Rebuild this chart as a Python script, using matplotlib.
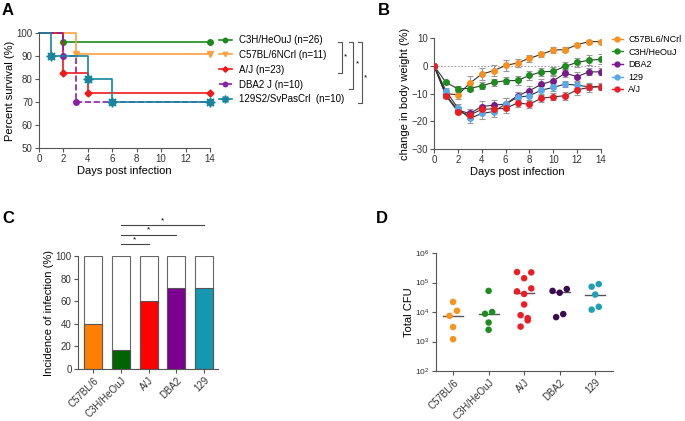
import numpy as np
import matplotlib
matplotlib.use("Agg")
from matplotlib import pyplot as plt
from matplotlib.lines import Line2D
from matplotlib.ticker import FixedLocator

plt.rcParams['font.family'] = ['Liberation Sans', 'DejaVu Sans']
plt.rcParams['font.size'] = 7
plt.rcParams['axes.linewidth'] = 0.8
plt.rcParams['axes.edgecolor'] = '#555555'
plt.rcParams['xtick.color'] = '#555555'
plt.rcParams['ytick.color'] = '#555555'
plt.rcParams['xtick.labelcolor'] = '#333333'
plt.rcParams['ytick.labelcolor'] = '#333333'
plt.rcParams['xtick.major.size'] = 3
plt.rcParams['ytick.major.size'] = 3

# ---- panel A: survival ----
surv_labels = ["C3H/HeOuJ (n=26)", "C57BL/6NCrl (n=11)", "A/J (n=23)",
               "DBA2 J (n=10)", "129S2/SvPasCrl  (n=10)"]
surv_times = [[0, 2, 14], [0, 3, 14], [0, 2, 4, 14], [0, 2, 3, 14], [0, 1, 4, 6, 14]]
surv_pct = [[100, 96.2, 96.2], [100, 90.9, 90.9], [100, 82.6, 73.9, 73.9],
            [100, 90, 70, 70], [100, 90, 80, 70, 70]]
surv_colors = ['#1a8a1a', '#ffa040', '#f01818', '#8a1fa8', '#17859e']
surv_markers = ['o', 'v', 'D', 'o', (8, 1, 0)]
surv_msize = [4, 4, 3.5, 4, 7]
surv_styles = ['-', '-', '-', '--', '-']

# ---- panel B: body weight ----
days = list(range(15))
bw_labels = ["C57BL6/NCrl", "C3H/HeOuJ", "DBA2", "129", "A/J"]
bw_colors = ['#f7901e', '#1e8c1e', '#7a1a8c', '#5aa8e8', '#ee1c24']
bw_mean = [
    [0, -10, -10.5, -6.3, -3, -1.8, 0.1, 1, 2.7, 4.1, 5.7, 5.8, 7.6, 8.7, 8.7],
    [0, -6, -8.3, -8.2, -7.2, -6, -5.4, -5.3, -3.5, -2.2, -2, -0.2, 1.2, 2, 2.3],
    [0, -10.5, -16, -17.2, -14.7, -14.2, -13.8, -10.8, -9, -6.7, -5.4, -2.7, -3.9, -2.2, -2.2],
    [0, -9, -15.3, -19, -17.2, -16.5, -13.8, -11.4, -10.8, -8.8, -7.8, -6.6, -7, -7.6, -7.5],
    [0, -10.8, -16.5, -17.8, -15.7, -15.5, -15.4, -13.4, -13.9, -11.7, -11.2, -10.8, -8.7, -7.8, -7.5],
]
bw_err = [
    [0, 0.8, 1.5, 2.5, 2.3, 2.0, 2.0, 1.5, 1.3, 1.0, 1.0, 0.8, 0.5, 0.5, 0.5],
    [0, 0.5, 1.0, 1.0, 1.3, 1.3, 1.3, 1.5, 1.5, 1.5, 1.5, 1.5, 1.5, 1.7, 1.8],
    [0, 1.0, 1.0, 1.5, 2.0, 2.0, 2.0, 1.5, 1.8, 1.8, 1.8, 1.5, 1.5, 1.3, 1.3],
    [0, 1.0, 1.5, 1.8, 2.0, 2.0, 2.0, 1.8, 1.8, 1.5, 1.3, 1.0, 1.0, 1.0, 1.0],
    [0, 1.0, 1.0, 1.5, 1.5, 1.5, 1.5, 1.3, 1.5, 1.3, 1.3, 1.5, 1.8, 1.5, 1.3],
]

# ---- panel C: incidence ----
strains = ["C57BL/6", "C3H/HeOuJ", "A/J", "DBA2", "129"]
incidence = [40, 16.7, 60, 71.4, 71.4]
inc_colors = ['#ff8000', '#006400', '#ff0000', '#7a0090', '#1597b0']
sig_pairs = [(1, 2), (1, 3), (1, 4)]

# ---- panel D: CFU ----
cfu_colors = ['#f7931e', '#1e8c1e', '#ee1c24', '#3b0a4f', '#1fa0b5']
cfu_vals = [
    [2.2e4, 1.1e4, 7.4e3, 3.1e3, 1.2e3],
    [5.2e4, 1.0e4, 8.7e3, 4.4e3, 2.5e3],
    [2.26e5, 2.2e5, 1.4e5, 6.3e4, 5.0e4, 4.1e4, 1.8e4, 7.8e3, 6.2e3, 5.2e3, 3.2e3],
    [5.2e4, 4.5e4, 6.0e4, 6.7e3, 8.5e3],
    [8.8e4, 7.2e4, 3.9e4, 1.5e4, 1.2e4],
]
cfu_jit = [
    [0, 0.11, -0.1, 0, 0],
    [0, 0.1, -0.1, 0, 0],
    [-0.2, 0.2, 0, 0.2, -0.2, 0, 0, -0.1, 0.1, 0.1, -0.1],
    [-0.2, 0, 0.2, -0.1, 0.1],
    [0.1, -0.1, 0, 0.1, -0.1],
]
cfu_median = [7.5e3, 8.7e3, 4.4e4, 4.7e4, 3.9e4]

W, H = 685, 421
fig = plt.figure(figsize=(W / 100, H / 100), dpi=100)


def px_axes(left, top, right, bottom):
    return fig.add_axes([left / W, 1 - bottom / H, (right - left) / W, (bottom - top) / H])


def prism(ax):
    ax.spines['top'].set_visible(False)
    ax.spines['right'].set_visible(False)
    ax.tick_params(direction='out', width=0.8, pad=1.5, labelsize=7)


# A
axA = px_axes(39, 33, 210, 148)
handles = []
for t, s, c, m, ms, ls, lab in zip(surv_times, surv_pct, surv_colors, surv_markers,
                                    surv_msize, surv_styles, surv_labels):
    axA.step(t, s, where='post', color=c, lw=1.2, ls=ls, clip_on=False)
    axA.plot(t[1:], s[1:], ls='none', marker=m, ms=ms, color=c, clip_on=False)
    handles.append(Line2D([], [], color=c, ls=ls, lw=1.2, marker=m, ms=ms * 0.8, label=lab))
axA.set_xlim(0, 14)
axA.set_ylim(50, 100)
axA.set_xticks(range(0, 15, 2))
axA.set_yticks(range(50, 101, 10))
axA.set_xlabel("Days post infection", fontsize=8, labelpad=1)
axA.set_ylabel("Percent survival (%)", fontsize=8, labelpad=1)
prism(axA)
fig.legend(handles=handles, loc='upper left', bbox_to_anchor=(219 / W, 1 - 35 / H),
           frameon=False, fontsize=7, labelspacing=0.5, handlelength=1.3,
           handletextpad=0.8, borderpad=0, borderaxespad=0)

# significance brackets next to legend A
for x, y2, sx, sy in [(342, 73, 345, 57), (353, 89, 357, 64), (362, 103, 366, 78)]:
    fig.add_artist(Line2D([(x - 4) / W, x / W, x / W, (x - 4) / W],
                          [1 - 42 / H, 1 - 42 / H, 1 - y2 / H, 1 - y2 / H],
                          color='#555555', lw=0.8))
    fig.text(sx / W, 1 - sy / H, "*", fontsize=6, ha='center', va='center')

# B
axB = px_axes(434, 38, 601, 149)
handles = []
for m, e, c, lab in zip(bw_mean, bw_err, bw_colors, bw_labels):
    axB.errorbar(days, m, yerr=e, color='#333333', lw=0.8, ecolor='#999999',
                 elinewidth=0.8, capsize=2, capthick=0.8, zorder=2)
    axB.plot(days, m, ls='none', marker='o', ms=4, color=c, zorder=3)
    handles.append(Line2D([], [], color=c, lw=1, marker='o', ms=3.5, label=lab))
axB.axhline(0, color='#888888', lw=0.6, ls=(0, (2, 2)), zorder=1)
axB.set_xlim(0, 14)
axB.set_ylim(-30, 10)
axB.set_xticks(range(0, 15, 2))
axB.set_yticks(range(-30, 11, 10))
axB.set_xlabel("Days post infection", fontsize=8, labelpad=1)
axB.set_ylabel("change in body weight (%)", fontsize=8, labelpad=1)
prism(axB)
fig.legend(handles=handles, loc='upper left', bbox_to_anchor=(612 / W, 1 - 35 / H),
           frameon=False, fontsize=6.5, labelspacing=0.4, handlelength=1.2,
           handletextpad=0.6, borderpad=0, borderaxespad=0)

# C
axC = px_axes(78, 256, 218, 369)
x = np.arange(len(strains))
axC.bar(x, [100] * len(strains), width=0.65, color='white', edgecolor='#666666', lw=0.8)
axC.bar(x, incidence, width=0.65, color=inc_colors, edgecolor='#555555', lw=0.8)
axC.set_xlim(-0.55, 4.5)
axC.set_ylim(0, 100)
axC.set_yticks(range(0, 101, 20))
axC.set_xticks(x)
axC.set_xticklabels(strains, rotation=45, ha='right', rotation_mode='anchor')
axC.set_ylabel("Incidence of infection (%)", fontsize=8, labelpad=1)
prism(axC)
for (a, b), yl in zip(sig_pairs, [110.6, 118.6, 127.4]):
    axC.plot([a, b], [yl, yl], color='#444444', lw=0.8, clip_on=False)
    axC.text((a + b) / 2, yl + 1, "*", fontsize=6, ha='center', va='bottom')

# D
axD = px_axes(436, 253, 613, 371)
for i, (v, j, c) in enumerate(zip(cfu_vals, cfu_jit, cfu_colors)):
    axD.scatter(i + np.array(j), v, s=22, color=c, edgecolors='none', zorder=3)
    axD.plot([i - 0.28, i + 0.28], [cfu_median[i]] * 2, color='#555555', lw=1, zorder=2)
axD.set_yscale('log')
axD.set_ylim(1e2, 1e6)
axD.yaxis.set_major_locator(FixedLocator([1e2, 1e3, 1e4, 1e5, 1e6]))
axD.yaxis.set_minor_locator(FixedLocator([]))
axD.set_xlim(-0.48, 4.5)
axD.set_xticks(x)
axD.set_xticklabels(strains, rotation=45, ha='right', rotation_mode='anchor')
axD.set_ylabel("Total CFU", fontsize=8, labelpad=1)
prism(axD)
axD.tick_params(axis='y', labelsize=6)

for lab, px, py in [("A", 2, 3), ("B", 378, 3), ("C", 2, 211), ("D", 376, 211)]:
    fig.text(px / W, 1 - py / H, lab, fontsize=12, fontweight='bold', va='top', ha='left')

fig.savefig("out.png", dpi=100)
